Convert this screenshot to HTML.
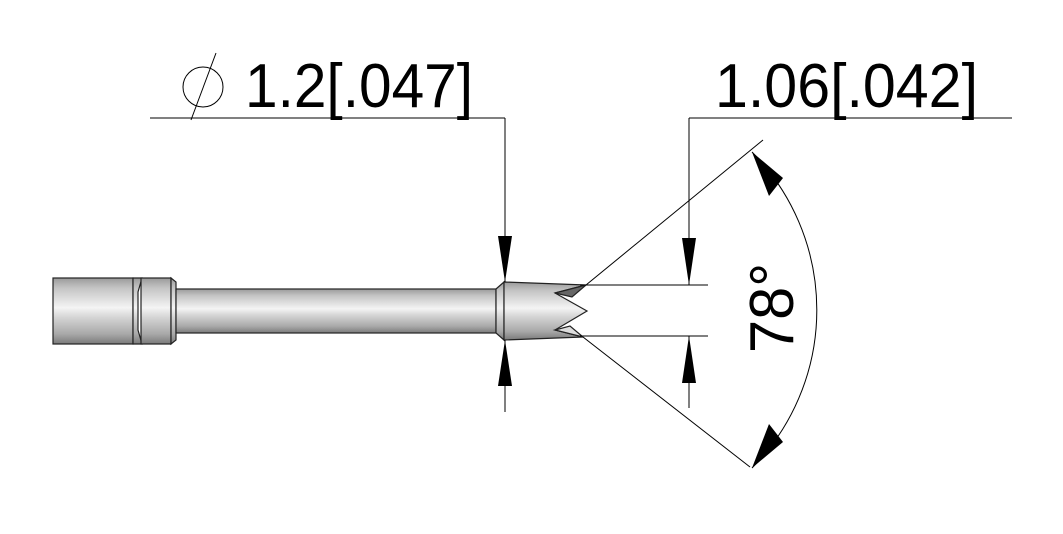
<!DOCTYPE html>
<html><head><meta charset="utf-8"><style>html,body{margin:0;padding:0;background:#fff}svg{display:block}</style></head>
<body>
<svg width="1063" height="534" viewBox="0 0 1063 534" xmlns="http://www.w3.org/2000/svg">
<defs>
<linearGradient id="cyl" x1="0" y1="0" x2="0" y2="1">
<stop offset="0" stop-color="#9a9a9a"/><stop offset="0.15" stop-color="#c4c4c4"/><stop offset="0.45" stop-color="#f4f4f4"/><stop offset="0.6" stop-color="#d4d4d4"/><stop offset="0.85" stop-color="#a8a8a8"/><stop offset="1" stop-color="#7a7a7a"/>
</linearGradient>
</defs>
<g stroke="#222" stroke-width="1.2">
<rect x="53" y="278" width="80" height="66" fill="url(#cyl)"/>
<path d="M133 278 L142 278 L138 292 L138 330 L142 344 L133 344 Z" fill="url(#cyl)"/>
<rect x="141" y="278" width="30" height="66" fill="url(#cyl)"/>
<path d="M171 278 L176 282 L176 340 L171 344 Z" fill="url(#cyl)"/>
<rect x="176" y="289" width="320" height="44" fill="url(#cyl)"/>
<path d="M496 289 L504 282 L504 340 L496 333 Z" fill="url(#cyl)"/>
<path d="M504 282 L586 285 L555 293 L587 311 L555 330 L583 337 L504 340 Z" fill="url(#cyl)"/>
<path d="M586 285 L555 293 L572 297 Z" fill="#666"/>
<path d="M583 337 L555 330 L570 326 Z" fill="#ddd"/>
</g>
<g stroke="#000" stroke-width="1" fill="none">
<line x1="150" y1="118" x2="505" y2="118"/>
<line x1="505" y1="118" x2="505" y2="282"/>
<line x1="505" y1="340" x2="505" y2="412"/>
<line x1="689" y1="118" x2="1012" y2="118"/>
<line x1="689" y1="118" x2="689" y2="285"/>
<line x1="689" y1="336" x2="689" y2="408"/>
<line x1="580" y1="285" x2="708" y2="285"/>
<line x1="580" y1="336" x2="708" y2="336"/>
<line x1="586" y1="285" x2="763" y2="140"/>
<line x1="583" y1="337" x2="750" y2="467"/>
<path d="M752 152 A 225 225 0 0 1 752 468"/>
</g>
<g fill="#000">
<polygon points="505,282 498,236 512,236"/>
<polygon points="505,340 498,386 512,386"/>
<polygon points="689,285 682,238 696,238"/>
<polygon points="689,336 682,383 696,383"/>
<polygon points="752,152 783,178 769,196"/>
<polygon points="752,468 783,442 769,424"/>
</g>
<circle cx="203" cy="87" r="20" fill="none" stroke="#000" stroke-width="1"/>
<line x1="216" y1="53" x2="191" y2="120" stroke="#000" stroke-width="1"/>
<g font-family="Liberation Sans, sans-serif" font-size="62" fill="#000">
<text x="245" y="107" textLength="228" lengthAdjust="spacingAndGlyphs">1.2[.047]</text>
<text x="715" y="107" textLength="263" lengthAdjust="spacingAndGlyphs">1.06[.042]</text>
<text transform="translate(793,353) rotate(-90)" x="0" y="0" textLength="90" lengthAdjust="spacingAndGlyphs">78°</text>
</g>
</svg>
</body></html>
